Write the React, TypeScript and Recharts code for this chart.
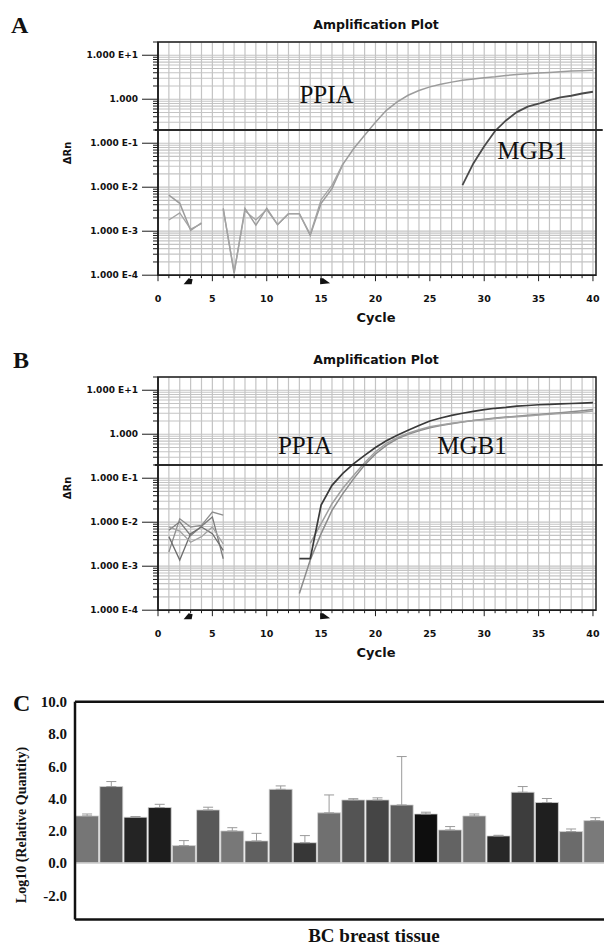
import React from 'react';
import {
  LineChart,
  Line,
  XAxis,
  YAxis,
  CartesianGrid,
  ReferenceLine,
  ReferenceArea,
  ReferenceDot,
  BarChart,
  Bar,
  Cell,
  ErrorBar,
} from 'recharts';

// ---------------- Amplification plots (panels A and B) ----------------
const cycleTicks = [
  0, 1, 2, 3, 4, 5, 6, 7, 8, 9, 10, 11, 12, 13, 14, 15, 16, 17, 18, 19, 20,
  21, 22, 23, 24, 25, 26, 27, 28, 29, 30, 31, 32, 33, 34, 35, 36, 37, 38, 39, 40,
];
const cycleLabels = [0, 5, 10, 15, 20, 25, 30, 35, 40];
const rnDecades = [0.0001, 0.001, 0.01, 0.1, 1, 10];
const rnDecadeLabels = ['1.000 E-4', '1.000 E-3', '1.000 E-2', '1.000 E-1', '1.000', '1.000 E+1'];
const rnMinorSteps = [1, 2, 3, 4, 5, 6, 7, 8, 9];
const rnDomain: [number, number] = [0.0001, 20];
const cycleDomain: [number, number] = [0, 40.28];
const threshold = 0.2;
const baselineStart = 3;
const baselineEnd = 15;

const rnTicks = rnDecades
  .flatMap((d) => rnMinorSteps.map((m) => m * d))
  .filter((v) => v <= rnDomain[1]);

// Panel A
const aPpiaCycles = [
  1, 2, 3, 4, 5, 6, 7, 8, 9, 10, 11, 12, 13, 14, 15, 16, 17, 18, 19, 20,
  21, 22, 23, 24, 25, 26, 27, 28, 29, 30, 31, 32, 33, 34, 35, 36, 37, 38, 39, 40,
];
const aPpiaRep1 = [
  0.0066, 0.0043, 0.00105, 0.00155, null, 0.0033, 0.00011, 0.0033, 0.00138, 0.0033,
  0.00141, 0.0025, 0.0025, 0.00081, 0.0043, 0.0093, 0.033, 0.076, 0.151, 0.3,
  0.56, 0.87, 1.23, 1.58, 1.91, 2.19, 2.45, 2.69, 2.88, 3.09,
  3.24, 3.47, 3.63, 3.8, 3.94, 4.07, 4.22, 4.37, 4.47, 4.57,
];
const aPpiaRep2Cycles = [1, 2, 3, 4, 5, 6, 7, 8, 9, 10, 11, 12, 13, 14, 15, 16, 17];
const aPpiaRep2 = [
  0.0018, 0.0026, 0.00112, 0.00148, null, 0.0031, 0.00012, 0.0029, 0.0018, 0.0031,
  0.0014, 0.0025, 0.0025, 0.00085, 0.0052, 0.011, 0.034,
];
const aMgbCycles = [28, 29, 30, 31, 32, 33, 34, 35, 36, 37, 38, 39, 40];
const aMgb = [0.0112, 0.0347, 0.085, 0.19, 0.33, 0.51, 0.68, 0.79, 0.95, 1.1, 1.2, 1.35, 1.48];

// Panel B
const bNoiseCycles = [1, 2, 3, 4, 5, 6];
const bNoise1 = [0.0021, 0.012, 0.0078, 0.0085, 0.017, 0.0145];
const bNoise2 = [0.0066, 0.0102, 0.005, 0.0081, 0.0132, 0.00148];
const bNoise3 = [0.0047, 0.00138, 0.0055, 0.0078, 0.0055, 0.0023];
const bNoise4 = [0.0078, 0.0063, 0.0035, 0.0047, 0.0078, 0.0032];
const bCurveCycles = [
  13, 14, 15, 16, 17, 18, 19, 20, 21, 22, 23, 24, 25, 26, 27, 28, 29, 30,
  31, 32, 33, 34, 35, 36, 37, 38, 39, 40,
];
const bDark = [
  0.00148, 0.00148, 0.0245, 0.069, 0.129, 0.214, 0.331, 0.5, 0.71, 0.95,
  1.23, 1.58, 2.0, 2.34, 2.69, 3.0, 3.3, 3.63, 3.89, 4.07,
  4.37, 4.5, 4.68, 4.79, 4.9, 5.0, 5.1, 5.25,
];
const bLight1 = [
  0.00024, 0.00138, 0.0055, 0.0186, 0.0447, 0.098, 0.2, 0.355, 0.56, 0.79,
  1.0, 1.2, 1.41, 1.58, 1.74, 1.9, 2.04, 2.19, 2.34, 2.45,
  2.57, 2.69, 2.82, 2.95, 3.09, 3.24, 3.43, 3.63,
];
const bLight2Cycles = [
  14, 15, 16, 17, 18, 19, 20, 21, 22, 23, 24, 25, 26, 27, 28, 29, 30,
  31, 32, 33, 34, 35, 36, 37, 38, 39, 40,
];
const bLight2 = [
  0.0033, 0.0093, 0.0263, 0.059, 0.117, 0.224, 0.4, 0.62, 0.83, 1.05,
  1.26, 1.48, 1.62, 1.78, 1.91, 2.04, 2.14, 2.29, 2.4, 2.5,
  2.6, 2.75, 2.85, 2.95, 3.05, 3.15, 3.39,
];

// ---------------- Bar chart (panel C) ----------------
const bcSamples = [
  '1', '2', '3', '4', '5', '6', '7', '8', '9', '10', '11',
  '12', '13', '14', '15', '16', '17', '18', '19', '20', '21', '22',
];
const bcLogRQ = [
  2.92, 4.74, 2.84, 3.44, 1.08, 3.29, 1.99, 1.37, 4.57, 1.26, 3.11,
  3.91, 3.91, 3.6, 3.04, 2.05, 2.92, 1.68, 4.39, 3.75, 1.95, 2.63,
];
const bcError = [
  0.12, 0.31, 0.04, 0.2, 0.31, 0.17, 0.2, 0.47, 0.21, 0.44, 1.11,
  0.08, 0.13, 3.0, 0.11, 0.21, 0.12, 0.04, 0.35, 0.25, 0.16, 0.18,
];
const bcTicks = [-2, 0, 2, 4, 6, 8, 10];
const bcDomain: [number, number] = [-3.5, 10];

const barPalette = [
  '#767676', '#5b5b5b', '#242424', '#1c1c1c', '#7b7b7b', '#585858', '#787878', '#606060',
  '#5a5a5a', '#373737', '#707070', '#545454', '#454545', '#5e5e5e', '#0e0e0e', '#636363',
  '#747474', '#272727', '#3d3d3d', '#1f1f1f', '#6b6b6b', '#7a7a7a',
];

const toPoints = (cs: number[], vs: (number | null)[]) => cs.map((c, i) => ({ c, v: vs[i] }));
// error bars drawn upward only
const bcData = bcSamples.map((name, i) => ({ name, value: bcLogRQ[i], err: [0, bcError[i]] }));

const sansBold = "'DejaVu Sans', 'Liberation Sans', sans-serif";
const serif = "'Liberation Serif', 'DejaVu Serif', 'Times New Roman', serif";
const ink = '#1c1c1c';

const AmpXTick = (props: any) => {
  const { x, y, payload } = props;
  const v = payload.value;
  const major = cycleLabels.indexOf(v) >= 0;
  return (
    <g>
      <line x1={x} x2={x} y1={y} y2={y + (major ? 6 : 3)} stroke={ink} strokeWidth={1} />
      {major && (
        <text x={x} y={y + 27} textAnchor="middle" fontFamily={sansBold} fontWeight={700} fontSize={9.5} fill="#111">
          {v}
        </text>
      )}
    </g>
  );
};

const AmpYTick = (props: any) => {
  const { x, y, payload } = props;
  const idx = rnDecades.indexOf(payload.value);
  const major = idx >= 0;
  return (
    <g>
      <line x1={x - (major ? 16 : 5)} x2={x} y1={y} y2={y} stroke={ink} strokeWidth={1} />
      {major && (
        <text x={x - 20} y={y} dy="0.35em" textAnchor="end" fontFamily={sansBold} fontWeight={700} fontSize={9} fill="#111">
          {rnDecadeLabels[idx]}
        </text>
      )}
    </g>
  );
};

const StartMarker = (p: any) => {
  const { cx, cy } = p;
  return <path d={`M${cx - 7},${cy + 9} L${cx - 2},${cy + 3} L${cx + 2},${cy + 4} L${cx + 1},${cy + 9} Z`} fill="#111" />;
};
const EndMarker = (p: any) => {
  const { cx, cy } = p;
  return <path d={`M${cx - 1},${cy + 3} L${cx + 2},${cy + 3} L${cx + 9},${cy + 8} L${cx - 1},${cy + 9} Z`} fill="#111" />;
};

type Series = { key: string; data: { c: number; v: number | null }[]; color: string; width: number };

function AmpPanel({ series }: { series: Series[] }) {
  return (
    <LineChart width={604} height={335} margin={{ top: 42, right: 8, bottom: 29.8, left: 0 }}>
      <CartesianGrid stroke="#c4c4c4" strokeWidth={1.2} syncWithTicks />
      <XAxis
        type="number"
        dataKey="c"
        domain={cycleDomain}
        ticks={cycleTicks}
        interval={0}
        allowDataOverflow
        height={30}
        tickSize={0}
        tickMargin={0}
        tickLine={false}
        axisLine={{ stroke: ink, strokeWidth: 1.5 }}
        tick={(p: any) => <AmpXTick {...p} />}
      />
      <YAxis
        type="number"
        scale="log"
        domain={rnDomain}
        ticks={rnTicks}
        interval={0}
        allowDataOverflow
        width={158}
        tickSize={0}
        tickMargin={0}
        tickLine={false}
        axisLine={{ stroke: ink, strokeWidth: 1.5 }}
        tick={(p: any) => <AmpYTick {...p} />}
      />
      {series.map((s) => (
        <Line
          key={s.key}
          data={s.data}
          dataKey="v"
          type="linear"
          dot={false}
          activeDot={false}
          stroke={s.color}
          strokeWidth={s.width}
          connectNulls={false}
          isAnimationActive={false}
        />
      ))}
      <ReferenceLine
        segment={[
          { x: -0.3, y: threshold },
          { x: 40.9, y: threshold },
        ]}
        stroke="#2a2a2a"
        strokeWidth={2}
        ifOverflow="visible"
      />
      <ReferenceArea
        x1={cycleDomain[0]}
        x2={cycleDomain[1]}
        y1={rnDomain[0]}
        y2={rnDomain[1]}
        fill="none"
        stroke={ink}
        strokeWidth={1.5}
        ifOverflow="visible"
      />
      <ReferenceDot x={baselineStart} y={rnDomain[0]} r={0} ifOverflow="visible" shape={StartMarker} />
      <ReferenceDot x={baselineEnd} y={rnDomain[0]} r={0} ifOverflow="visible" shape={EndMarker} />
    </LineChart>
  );
}

const seriesA: Series[] = [
  { key: 'ppia1', data: toPoints(aPpiaCycles, aPpiaRep1), color: '#9c9c9c', width: 1.5 },
  { key: 'ppia2', data: toPoints(aPpiaRep2Cycles, aPpiaRep2), color: '#a4a4a4', width: 1.3 },
  { key: 'mgb', data: toPoints(aMgbCycles, aMgb), color: '#4a4a4a', width: 1.8 },
];

const seriesB: Series[] = [
  { key: 'n1', data: toPoints(bNoiseCycles, bNoise1), color: '#8e8e8e', width: 1.3 },
  { key: 'n2', data: toPoints(bNoiseCycles, bNoise2), color: '#7c7c7c', width: 1.3 },
  { key: 'n3', data: toPoints(bNoiseCycles, bNoise3), color: '#6e6e6e', width: 1.3 },
  { key: 'n4', data: toPoints(bNoiseCycles, bNoise4), color: '#a2a2a2', width: 1.3 },
  { key: 'l1', data: toPoints(bCurveCycles, bLight1), color: '#8c8c8c', width: 1.5 },
  { key: 'l2', data: toPoints(bLight2Cycles, bLight2), color: '#a0a0a0', width: 1.5 },
  { key: 'dk', data: toPoints(bCurveCycles, bDark), color: '#3a3a3a', width: 1.7 },
];

function BarPanel() {
  return (
    <BarChart
      width={640}
      height={305}
      data={bcData}
      margin={{ top: 61.7, right: 32.6, bottom: 25.5, left: 0 }}
      barCategoryGap={0.6}
    >
      <XAxis dataKey="name" hide />
      <YAxis
        type="number"
        domain={bcDomain}
        ticks={bcTicks}
        interval={0}
        allowDataOverflow
        width={75}
        tickSize={0}
        tickMargin={8}
        tickLine={false}
        axisLine={{ stroke: '#111', strokeWidth: 2.5 }}
        tickFormatter={(v: number) => v.toFixed(1)}
        tick={{ fontFamily: serif, fontWeight: 700, fontSize: 15, fill: '#111' }}
      />
      <ReferenceLine y={0} stroke="#cfcfcf" strokeWidth={1.5} />
      <Bar dataKey="value" isAnimationActive={false} stroke="#d6d6d6" strokeWidth={0.8}>
        {bcData.map((d, i) => (
          <Cell key={d.name} fill={barPalette[i]} />
        ))}
        <ErrorBar dataKey="err" width={5} stroke="#9a9a9a" strokeWidth={1} direction="y" isAnimationActive={false} />
      </Bar>
      <ReferenceLine y={bcDomain[1]} stroke="#111" strokeWidth={2.5} ifOverflow="visible" />
      <ReferenceLine y={bcDomain[0]} stroke="#111" strokeWidth={2.5} ifOverflow="visible" />
    </BarChart>
  );
}

export default function App() {
  const letter = { fontFamily: serif, fontWeight: 700, fontSize: 24, fill: '#111' } as const;
  const title = { fontFamily: sansBold, fontWeight: 700, fontSize: 12.5, fill: '#111' } as const;
  const gene = { fontFamily: serif, fontSize: 25, fill: '#111' } as const;
  return (
    <div style={{ position: 'absolute', left: 0, top: 0, width: 604, height: 945, overflow: 'hidden', background: '#fff' }}>
      <div style={{ position: 'absolute', left: 0, top: 0 }}>
        <AmpPanel series={seriesA} />
      </div>
      <div style={{ position: 'absolute', left: 0, top: 335 }}>
        <AmpPanel series={seriesB} />
      </div>
      <div style={{ position: 'absolute', left: 0, top: 640, width: 640, height: 305 }}>
        <BarPanel />
      </div>
      <svg width={604} height={945} style={{ position: 'absolute', left: 0, top: 0, pointerEvents: 'none' }}>
        {/* Panel A */}
        <text x={11} y={33} {...letter}>A</text>
        <text x={376} y={28.5} textAnchor="middle" {...title}>Amplification Plot</text>
        <text x={0} y={0} transform="translate(67,153) rotate(-90)" textAnchor="middle" dominantBaseline="central" fontFamily={sansBold} fontWeight={700} fontSize={10} fill="#111">ΔRn</text>
        <text x={376} y={322} textAnchor="middle" fontFamily={sansBold} fontWeight={700} fontSize={13} fill="#111">Cycle</text>
        <text x={326.5} y={103} textAnchor="middle" {...gene}>PPIA</text>
        <text x={532} y={159} textAnchor="middle" {...gene}>MGB1</text>
        {/* Panel B */}
        <text x={13} y={368} {...letter}>B</text>
        <text x={376} y={363.5} textAnchor="middle" {...title}>Amplification Plot</text>
        <text x={0} y={0} transform="translate(67,488) rotate(-90)" textAnchor="middle" dominantBaseline="central" fontFamily={sansBold} fontWeight={700} fontSize={10} fill="#111">ΔRn</text>
        <text x={376} y={657} textAnchor="middle" fontFamily={sansBold} fontWeight={700} fontSize={13} fill="#111">Cycle</text>
        <text x={305} y={454} textAnchor="middle" {...gene}>PPIA</text>
        <text x={472} y={454} textAnchor="middle" {...gene}>MGB1</text>
        {/* Panel C */}
        <text x={13} y={711} {...letter}>C</text>
        <text x={0} y={0} transform="translate(21,825) rotate(-90)" textAnchor="middle" dominantBaseline="central" fontFamily={serif} fontWeight={700} fontSize={14} fill="#111">Log10 (Relative Quantity)</text>
        <text x={374} y={942} textAnchor="middle" fontFamily={serif} fontWeight={700} fontSize={19} fill="#111">BC breast tissue</text>
      </svg>
    </div>
  );
}
